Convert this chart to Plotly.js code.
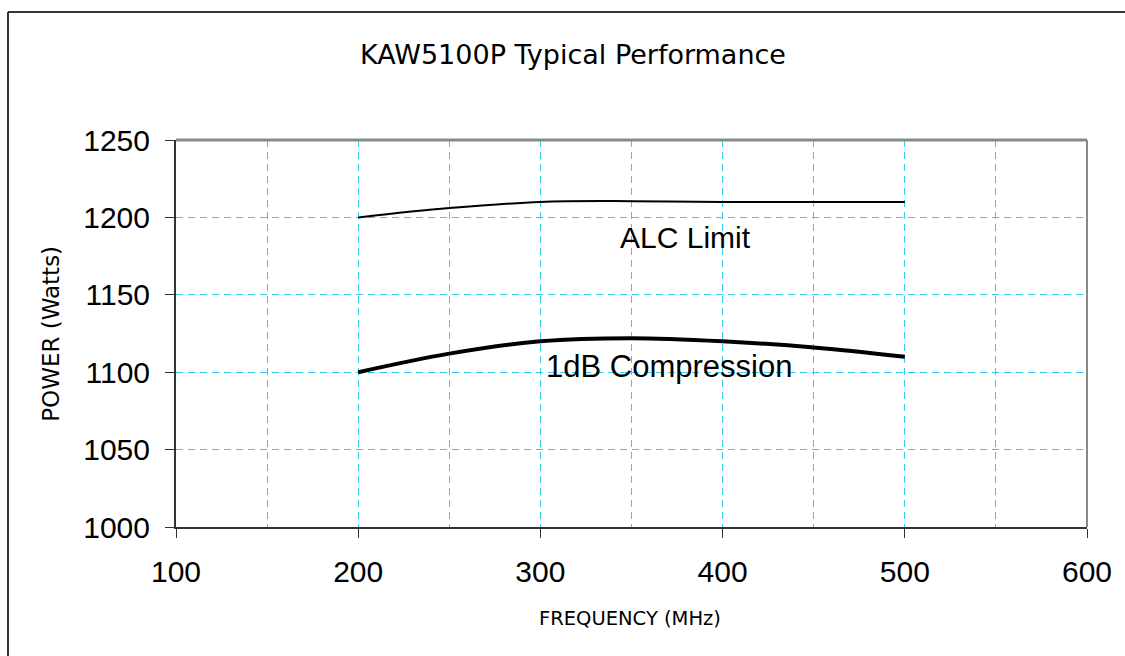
<!DOCTYPE html>
<html>
<head>
<meta charset="utf-8">
<script src="https://cdn.plot.ly/plotly-3.0.1.min.js"></script>
<style>html,body{margin:0;padding:0;background:#fff;}#chart{width:1125px;height:656px;}</style>
</head>
<body>
<div id="chart"></div>
<script>
// Data
const frequency = [200, 250, 300, 350, 400, 450, 500];
const alcLimit = [1200, 1206, 1210, 1210.5, 1210, 1210, 1210];
const compression1dB = [1100, 1112, 1120, 1122, 1120, 1116, 1110];
const xTicks = [100, 200, 300, 400, 500, 600];
const yTicks = [1000, 1050, 1100, 1150, 1200, 1250];

const titleFont = "DejaVu Sans, sans-serif";
const numFont = "Liberation Sans, Arial, sans-serif";
const grid = "#33ccee";

const traces = [
  {x: frequency, y: alcLimit, mode: "lines", line: {color: "#000", width: 2, shape: "spline"}, name: "ALC Limit", hoverinfo: "x+y"},
  {x: frequency, y: compression1dB, mode: "lines", line: {color: "#000", width: 4, shape: "spline"}, name: "1dB Compression", hoverinfo: "x+y"}
];

const layout = {
  width: 1125, height: 656,
  margin: {l: 176, r: 38, t: 140, b: 129},
  paper_bgcolor: "#fff", plot_bgcolor: "#fff",
  showlegend: false,
  xaxis: {
    range: [100, 600], tickvals: xTicks, ticktext: xTicks.map(String),
    showline: true, linecolor: "#333", linewidth: 2,
    ticks: "outside", ticklen: 9, tickcolor: "#333", tickwidth: 1,
    ticklabelstandoff: 8,
    tickfont: {family: numFont, size: 30, color: "#000"},
    showgrid: true, gridcolor: grid, griddash: "7px,5px", gridwidth: 1,
    minor: {dtick: 50, tick0: 100, showgrid: true, gridcolor: grid, griddash: "7px,5px", gridwidth: 1, ticks: ""},
    zeroline: false, fixedrange: true
  },
  yaxis: {
    range: [1000, 1250], tickvals: yTicks, ticktext: yTicks.map(String),
    showline: true, linecolor: "#333", linewidth: 2,
    ticks: "outside", ticklen: 9, tickcolor: "#333", tickwidth: 1,
    ticklabelstandoff: 9,
    tickfont: {family: numFont, size: 30, color: "#000"},
    showgrid: true, gridcolor: grid, griddash: "7px,5px", gridwidth: 1,
    zeroline: false, fixedrange: true
  },
  shapes: [
    {type: "line", xref: "paper", yref: "paper", x0: 0, x1: 1, y0: 1, y1: 1, line: {color: "#888", width: 3}},
    {type: "line", xref: "paper", yref: "paper", x0: 1, x1: 1, y0: 0, y1: 1, line: {color: "#888", width: 2}},
    {type: "line", xref: "paper", yref: "paper", x0: -0.1844, x1: 1.045, y0: 1.3307, y1: 1.3307, line: {color: "#333", width: 2}},
    {type: "line", xref: "paper", yref: "paper", x0: -0.1844, x1: -0.1844, y0: 1.3307, y1: -0.34, line: {color: "#333", width: 2}}
  ],
  annotations: [
    {text: "KAW5100P Typical Performance", xref: "paper", yref: "paper", x: 0.4363, y: 1.222, showarrow: false, xanchor: "center", yanchor: "middle", font: {family: titleFont, size: 27, color: "#000"}},
    {text: "FREQUENCY (MHz)", xref: "paper", yref: "paper", x: 0.4986, y: -0.237, showarrow: false, xanchor: "center", yanchor: "middle", font: {family: titleFont, size: 19.5, color: "#000"}},
    {text: "POWER (Watts)", xref: "paper", yref: "paper", x: -0.138, y: 0.5, textangle: -90, showarrow: false, xanchor: "center", yanchor: "middle", font: {family: titleFont, size: 23, color: "#000"}},
    {text: "ALC Limit", x: 379.4, y: 1187, showarrow: false, xanchor: "center", yanchor: "middle", font: {family: numFont, size: 30, color: "#000"}},
    {text: "1dB Compression", x: 370.6, y: 1103.4, showarrow: false, xanchor: "center", yanchor: "middle", font: {family: numFont, size: 31, color: "#000"}}
  ]
};

Plotly.newPlot("chart", traces, layout, {displayModeBar: false, staticPlot: true});
</script>
</body>
</html>
